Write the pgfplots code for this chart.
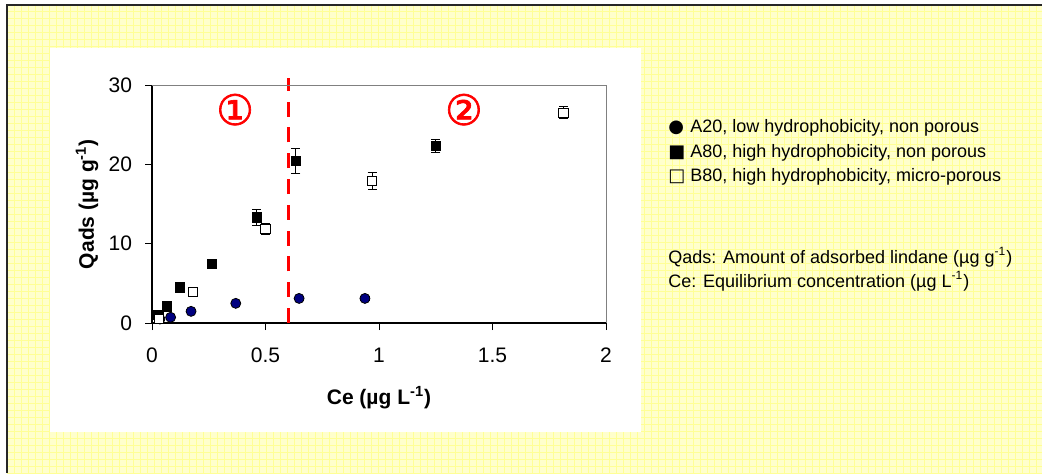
\documentclass[border=0pt]{standalone}
\usepackage{fontspec}
\setmainfont{Liberation Sans}
\newfontfamily\dejavu{DejaVu Sans}
\newfontfamily\dejavubold[FakeBold=1.6]{DejaVu Sans}
\usepackage{pgfplots}
\pgfplotsset{compat=1.18}
\definecolor{bgyellow}{RGB}{255,255,204}
\definecolor{gridyellow}{RGB}{255,255,150}
\definecolor{navy}{RGB}{0,0,128}

\pgfplotstableread{
x y e
0.035 0.50 0.2
0.082 0.72 0.2
0.172 1.47 0.2
0.369 2.48 0.2
0.648 3.10 0.3
0.938 3.10 0.2
}\Atwenty
\pgfplotstableread{
x y e
0.028 1.00 0.2
0.065 2.10 0.3
0.123 4.50 0.3
0.263 7.44 0.4
0.461 13.30 1.0
0.633 20.40 1.6
1.250 22.30 0.85
}\Aeighty
\pgfplotstableread{
x y e
0.030 0.55 0.2
0.182 3.87 0.3
0.500 11.85 0.7
0.970 17.90 1.05
1.813 26.50 0.75
}\Beighty

\newcommand{\sym}[1]{\makebox[11pt][l]{\dejavu #1}}

\begin{document}
\begin{tikzpicture}[x=0.5pt,y=0.5pt]
\useasboundingbox (0,0) rectangle (1042,473);
\fill[white] (0,0) rectangle (1042,473);
\fill[bgyellow] (7,0) rectangle (1042,468);
\begin{scope}
\clip (7,0) rectangle (1042,468);
\draw[gridyellow, line width=0.5pt, step=3.5pt] (0,0) grid (1042,473);
\end{scope}
\draw[black!85, line width=1pt] (7,0) -- (7,468) -- (1042,468);
\fill[white] (50,41) rectangle (641,425);

\begin{axis}[
  at={(76pt,75pt)}, anchor=south west,
  scale only axis, width=227pt, height=119pt,
  xmin=0, xmax=2, ymin=0, ymax=30,
  xtick={0,0.5,1,1.5,2}, ytick={0,10,20,30},
  xticklabels={0,0.5,1,1.5,2},
  axis lines*=left,
  axis line style={black, line width=0.6pt},
  tick align=outside,
  major tick length=3.5pt,
  tick style={black, line width=0.5pt},
  every tick label/.append style={font=\fontsize{10.5}{12}\selectfont},
  /pgf/number format/assume math mode=true,
  xticklabel shift=5.5pt,
  yticklabel shift=3pt,
  xlabel={\bfseries Ce (µg L\textsuperscript{-1})},
  ylabel={\bfseries Qads (µg g\textsuperscript{-1})},
  label style={font=\fontsize{10.5}{12}\selectfont},
  xlabel style={at={(axis description cs:0.5,-0.315)}, anchor=center},
  ylabel style={at={(axis description cs:-0.143,0.5)}, anchor=center},
  clip=false,
  error bars/error bar style={black, line width=0.5pt},
  error bars/error mark options={rotate=90, mark size=2.3pt, black, line width=0.5pt},
  after end axis/.code={
    \draw[gray, line width=0.5pt] (rel axis cs:0,1) -- (rel axis cs:1,1) -- (rel axis cs:1,0);
  },
]
\addplot[red, line width=1.6pt, dash pattern=on 7.5pt off 5.4pt] coordinates {(0.603,0) (0.603,30.9)};

\addplot[only marks, mark=*, mark size=2.5pt, mark options={fill=navy, draw=black, line width=0.4pt},
  error bars/.cd, y dir=both, y explicit] table[x=x, y=y, y error=e] {\Atwenty};
\addplot[only marks, mark=square*, mark size=2.3pt, mark options={fill=black, draw=black},
  error bars/.cd, y dir=both, y explicit] table[x=x, y=y, y error=e] {\Aeighty};
\addplot[only marks, mark=square*, mark size=2.3pt, mark options={fill=white, draw=black, line width=0.5pt},
  error bars/.cd, y dir=both, y explicit] table[x=x, y=y, y error=e] {\Beighty};

\node[red, font=\dejavubold\fontsize{21}{24}\selectfont] at (axis cs:0.366,26.9) {①};
\node[red, font=\dejavubold\fontsize{21}{24}\selectfont] at (axis cs:1.374,26.9) {②};
\end{axis}

\begin{scope}[every node/.style={anchor=base west, inner sep=0pt, font=\fontsize{9}{11}\selectfont}]
\node at (668, 340.7) {\sym{●}A20, low hydrophobicity, non porous};
\node at (668, 315.5) {\sym{■}A80, high hydrophobicity, non porous};
\node at (668, 291.3) {\sym{□}B80, high hydrophobicity, micro-porous};
\node at (668, 210) {Qads: Amount of adsorbed lindane (µg g\textsuperscript{-1})};
\node at (668, 186) {Ce: Equilibrium concentration (µg L\textsuperscript{-1})};
\end{scope}
\end{tikzpicture}
\end{document}
